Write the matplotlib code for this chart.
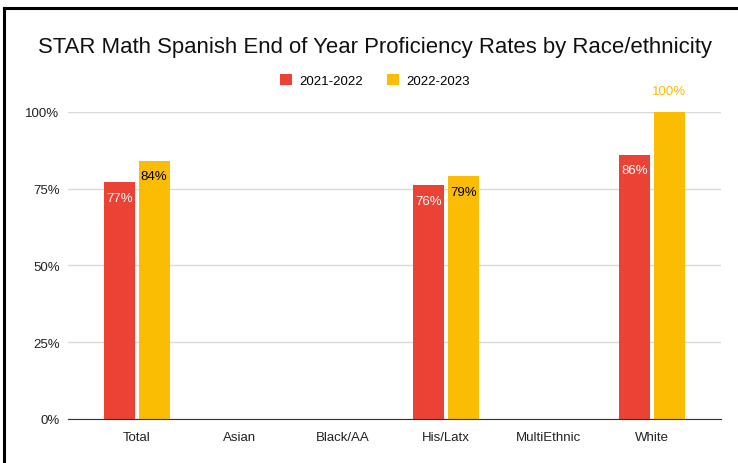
import numpy as np
import matplotlib.pyplot as plt
from matplotlib.lines import Line2D

plt.rcParams['font.family'] = ['Liberation Sans', 'DejaVu Sans']

categories = ['Total', 'Asian', 'Black/AA', 'His/Latx', 'MultiEthnic', 'White']
rates_2122 = [0.77, np.nan, np.nan, 0.76, np.nan, 0.86]
rates_2223 = [0.84, np.nan, np.nan, 0.79, np.nan, 1.00]
series_names = ['2021-2022', '2022-2023']

red = '#ea4335'
yellow = '#fbbc04'

fig = plt.figure(figsize=(7.38, 4.64), dpi=100)
ax = fig.add_axes([0.092, 0.095, 0.885, 0.662])

x = np.arange(len(categories))
w = 0.30
off = 0.167
b1 = ax.bar(x - off, rates_2122, w, color=red, label=series_names[0], zorder=3)
b2 = ax.bar(x + off, rates_2223, w, color=yellow, label=series_names[1], zorder=3)

# data labels
for xi, v in zip(x, rates_2122):
    if not np.isnan(v):
        ax.text(xi - off, v - 0.05, f'{v:.0%}', ha='center', va='center',
                color='white', fontsize=9.5, zorder=4)
for xi, v in zip(x, rates_2223):
    if np.isnan(v):
        continue
    if v >= 0.99:
        ax.text(xi + off, v + 0.068, f'{v:.0%}', ha='center', va='center',
                color=yellow, fontsize=9.5, zorder=4, clip_on=False)
    else:
        ax.text(xi + off, v - 0.05, f'{v:.0%}', ha='center', va='center',
                color='black', fontsize=9.5, zorder=4)

ax.set_xlim(-0.67, 5.67)
ax.set_ylim(0, 1.0)
ax.set_yticks([0, 0.25, 0.5, 0.75, 1.0])
ax.set_yticklabels(['0%', '25%', '50%', '75%', '100%'])
ax.set_xticks(x)
ax.set_xticklabels(categories)
ax.tick_params(length=0, labelsize=9.5, colors='#222222')
ax.tick_params(axis='x', pad=9)
ax.tick_params(axis='y', pad=6)
ax.grid(axis='y', color='#d9d9d9', linewidth=1, zorder=0)
for s in ['top', 'right', 'left']:
    ax.spines[s].set_visible(False)
ax.spines['bottom'].set_color('#333333')
ax.spines['bottom'].set_zorder(5)

fig.text(0.508, 0.898, 'STAR Math Spanish End of Year Proficiency Rates by Race/ethnicity',
         ha='center', va='center', fontsize=15.9, color='#111111')

fig.legend(handles=[b1, b2], loc='center', bbox_to_anchor=(0.508, 0.825), ncol=2,
           frameon=False, fontsize=9.5, handlelength=0.9, handleheight=0.9,
           columnspacing=1.8, handletextpad=0.6)

# frame edges of the original screenshot
fig.add_artist(Line2D([0.005, 1.0], [0.981, 0.981], color='black', linewidth=2.2,
                      transform=fig.transFigure))
fig.add_artist(Line2D([0.006, 0.006], [0.0, 0.981], color='black', linewidth=2.2,
                      transform=fig.transFigure))

fig.savefig('out.png', dpi=100)
